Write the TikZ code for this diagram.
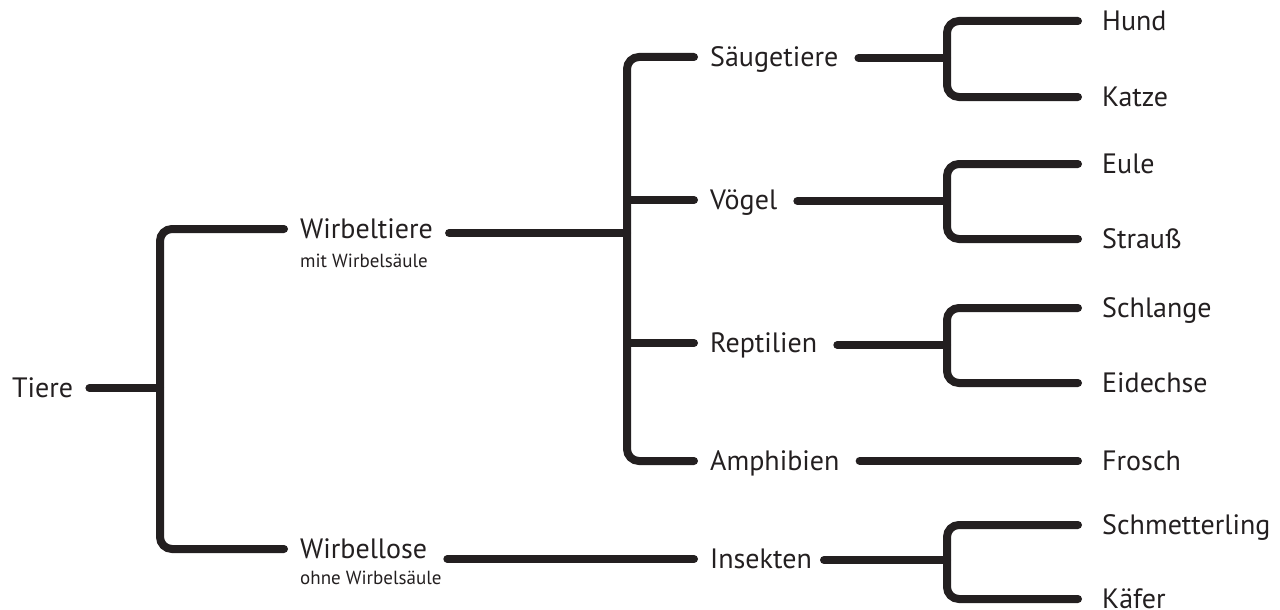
\documentclass[tikz,border=0pt]{standalone}
\usepackage{fontspec}
\setmainfont{PT Sans}
\definecolor{ink}{HTML}{231F20}
\begin{document}
\begin{tikzpicture}[x=1pt,y=-1pt,
  conn/.style={line width=8pt, line cap=round, rounded corners=12pt, draw=ink},
  lbl/.style={font=\fontsize{28}{32}\selectfont, inner sep=0pt, text height=19.6pt, text depth=0pt, anchor=west, text=ink},
  sublbl/.style={font=\fontsize{19}{22}\selectfont, inner sep=0pt, anchor=base west, text=ink}]
\useasboundingbox (0,0) rectangle (1280,610);
% labels
\node[lbl] (tiere) at (12,388) {Tiere};
\node[lbl] (wt) at (300,229) {Wirbeltiere};
\node[sublbl] (wts) at (300,267) {mit Wirbelsäule};
\node[lbl] (wl) at (300,549) {Wirbellose};
\node[sublbl] (wls) at (300,584) {ohne Wirbelsäule};
\node[lbl] (sg) at (710,57) {Säugetiere};
\node[lbl] (vg) at (710,200) {Vögel};
\node[lbl] (rp) at (710,343) {Reptilien};
\node[lbl] (am) at (710,461) {Amphibien};
\node[lbl] (ins) at (710,559) {Insekten};
\node[lbl] (hund) at (1102,21) {Hund};
\node[lbl] (katze) at (1102,97) {Katze};
\node[lbl] (eule) at (1102,164) {Eule};
\node[lbl] (strauss) at (1102,239) {Strauß};
\node[lbl] (schl) at (1102,308) {Schlange};
\node[lbl] (eid) at (1102,383) {Eidechse};
\node[lbl] (frosch) at (1102,461) {Frosch};
\node[lbl] (schm) at (1102,525) {Schmetterling};
\node[lbl] (kaefer) at (1102,599) {Käfer};
% junctions
\coordinate (j1) at (160,388);
\coordinate (j2) at (627,233);
\coordinate (j3) at (947,58);
\coordinate (j4) at (947,201);
\coordinate (j5) at (947,345);
\coordinate (j6) at (947,560);
% level 1
\draw[conn] ([xshift=16pt]tiere.east) -- (j1);
\draw[conn] ([xshift=-16pt]wt.west) -| (j1) |- ([xshift=-16pt]wl.west);
% level 2
\draw[conn] ([xshift=16pt]wt.east |- j2) -- (j2);
\draw[conn] ([xshift=-16pt]sg.west) -| (j2) |- ([xshift=-16pt]am.west);
\draw[conn] (j2 |- vg.west) -- ([xshift=-16pt]vg.west);
\draw[conn] (j2 |- rp.west) -- ([xshift=-16pt]rp.west);
\draw[conn] ([xshift=20pt]wl.east |- ins.west) -- ([xshift=-16pt]ins.west);
% level 3
\draw[conn] ([xshift=20pt]sg.east |- j3) -- (j3);
\draw[conn] ([xshift=-24pt]hund.west) -| (j3) |- ([xshift=-24pt]katze.west);
\draw[conn] ([xshift=20pt]vg.east |- j4) -- (j4);
\draw[conn] ([xshift=-24pt]eule.west) -| (j4) |- ([xshift=-24pt]strauss.west);
\draw[conn] ([xshift=20pt]rp.east |- j5) -- (j5);
\draw[conn] ([xshift=-24pt]schl.west) -| (j5) |- ([xshift=-24pt]eid.west);
\draw[conn] ([xshift=20pt]am.east) -- ([xshift=-24pt]frosch.west);
\draw[conn] ([xshift=12pt]ins.east |- j6) -- (j6);
\draw[conn] ([xshift=-24pt]schm.west) -| (j6) |- ([xshift=-24pt]kaefer.west);
\end{tikzpicture}
\end{document}
